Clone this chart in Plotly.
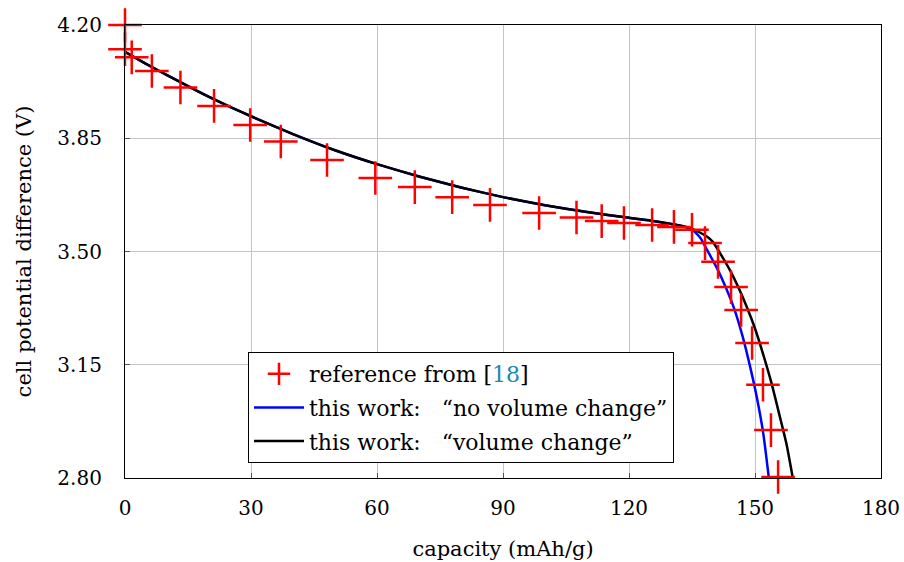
import plotly.graph_objects as go

# Measured reference discharge curve, capacity (mAh/g) vs. cell voltage (V)
ref_capacity = [0, 0, 1.6, 6.4, 13.2, 21.2, 29.8, 37.1, 48.1, 59.6, 69.0, 77.9,
                86.9, 98.6, 107.5, 113.5, 118.8, 125.5, 130.7, 135.0, 138.1,
                141.2, 144.3, 146.7, 149.3, 151.9, 153.8, 155.5]
ref_voltage = [4.200, 4.125, 4.100, 4.058, 4.007, 3.950, 3.891, 3.840, 3.783,
               3.727, 3.699, 3.668, 3.644, 3.619, 3.605, 3.594, 3.588, 3.582,
               3.576, 3.567, 3.526, 3.468, 3.390, 3.319, 3.217, 3.088, 2.948,
               2.803]

# Simulation without volume change
novol_capacity = [0, 5, 10, 15, 20, 25, 30, 40, 50, 60, 70, 80, 90, 100, 110,
                  120, 125, 130, 133, 135, 137, 139, 141, 143, 145, 147, 149,
                  150.5, 152, 153.3]
novol_voltage = [4.117, 4.080, 4.045, 4.011, 3.978, 3.947, 3.918, 3.863, 3.813,
                 3.770, 3.732, 3.698, 3.668, 3.643, 3.622, 3.604, 3.596, 3.585,
                 3.577, 3.568, 3.542, 3.495, 3.447, 3.390, 3.325, 3.240, 3.135,
                 3.045, 2.935, 2.800]

# Simulation with volume change
vol_capacity = [0, 5, 10, 15, 20, 25, 30, 40, 50, 60, 70, 80, 90, 100, 110,
                120, 125, 130, 133, 135, 137, 139, 140, 142, 144, 146, 148,
                150, 152, 154, 156, 157.5, 159]
vol_voltage = [4.117, 4.080, 4.045, 4.011, 3.978, 3.947, 3.918, 3.863, 3.813,
               3.770, 3.732, 3.698, 3.668, 3.643, 3.622, 3.604, 3.596, 3.585,
               3.578, 3.570, 3.558, 3.542, 3.529, 3.488, 3.443, 3.390, 3.330,
               3.262, 3.180, 3.090, 2.985, 2.905, 2.800]

x_ticks = [0, 30, 60, 90, 120, 150, 180]
y_ticks = [2.80, 3.15, 3.50, 3.85, 4.20]

FONT = "DejaVu Serif"
GAP = "\u00a0\u00a0\u00a0"

fig = go.Figure()

fig.add_trace(go.Scatter(
    x=novol_capacity, y=novol_voltage, mode="lines",
    name=f"this work:{GAP}\u201cno volume change\u201d",
    line=dict(color="#0000ff", width=2.5, shape="spline", smoothing=0.5),
    legendrank=2, legendgroup="novol",
))
fig.add_trace(go.Scatter(
    x=vol_capacity, y=vol_voltage, mode="lines",
    name=f"this work:{GAP}\u201cvolume change\u201d",
    line=dict(color="#000000", width=2.5, shape="spline", smoothing=0.5),
    legendrank=3, legendgroup="vol",
))
fig.add_trace(go.Scatter(
    x=ref_capacity, y=ref_voltage, mode="markers",
    name='reference from [<span style="color:#1a8ab0">18</span>]',
    marker=dict(symbol="cross-thin", size=24,
                line=dict(color="#ff0000", width=2.5)),
    cliponaxis=False,
    legendrank=1, legendgroup="ref",
))

axis_common = dict(
    showgrid=True, gridcolor="#c4c4c4", gridwidth=1,
    showline=True, linecolor="#000000", linewidth=1.2, mirror=True,
    ticks="inside", ticklen=5, tickcolor="#555555",
    zeroline=False, automargin=False,
    tickfont=dict(family=FONT, size=20, color="#000000"),
)

fig.update_xaxes(
    range=[0, 180], tickvals=x_ticks, ticktext=[str(v) for v in x_ticks],
    ticklabelstandoff=12,
    title=dict(text="capacity (mAh/g)", font=dict(family=FONT, size=21, color="#000000"),
               standoff=22),
    **axis_common,
)
fig.update_yaxes(
    range=[2.80, 4.20], tickvals=y_ticks, ticktext=[f"{v:.2f}" for v in y_ticks],
    ticklabelstandoff=18,
    title=dict(text="cell potential difference (V)",
               font=dict(family=FONT, size=21, color="#000000"), standoff=20),
    **axis_common,
)

fig.update_layout(
    width=904, height=562,
    margin=dict(l=125, r=23, t=25, b=84),
    paper_bgcolor="#ffffff", plot_bgcolor="#ffffff",
    font=dict(family=FONT, size=21, color="#000000"),
    legend=dict(
        x=0.1627, y=0.278, xanchor="left", yanchor="top",
        bordercolor="#000000", borderwidth=1, bgcolor="#ffffff",
        font=dict(family=FONT, size=22, color="#000000"),
        itemwidth=50, tracegroupgap=2,
    ),
    showlegend=True,
)

fig.write_html("out.html")
